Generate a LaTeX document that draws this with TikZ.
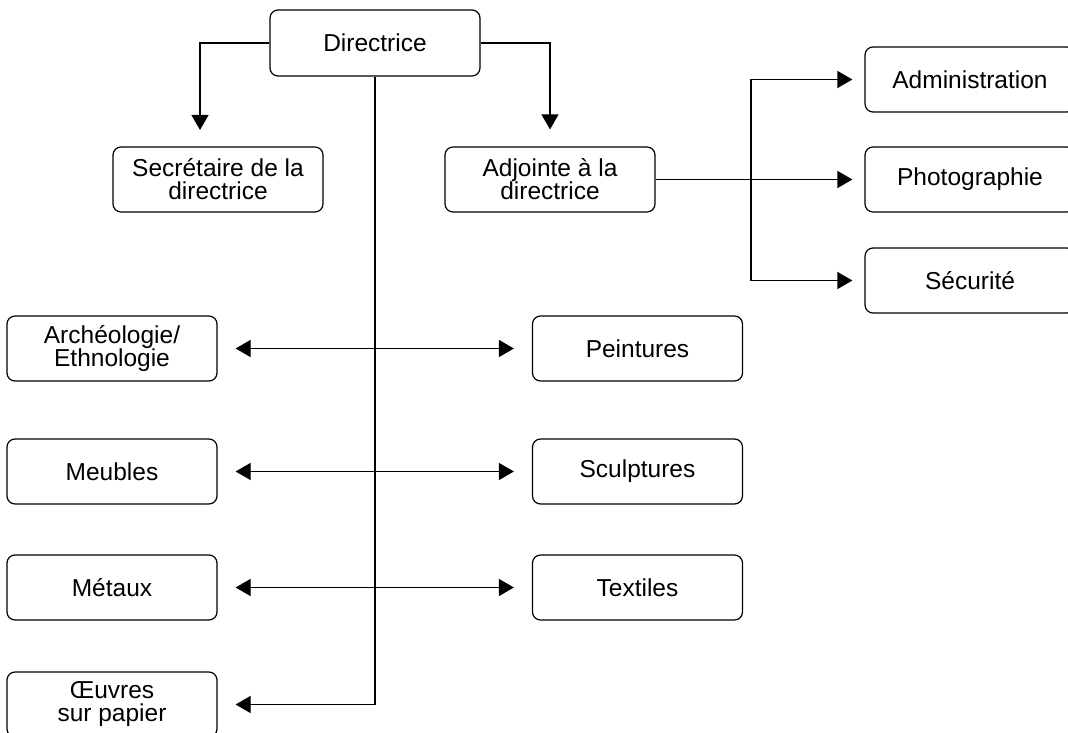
\documentclass[tikz,border=0pt]{standalone}
\usepackage{fontspec}
\setmainfont{Liberation Sans}
\usetikzlibrary{arrows.meta}
\begin{document}
\begin{tikzpicture}[x=1pt,y=-1pt,
  box/.style={draw, line width=1.2pt, rounded corners=8pt, minimum width=210pt, minimum height=65pt, inner sep=0pt, align=center, font=\fontsize{24.5}{23}\selectfont},
  conn/.style={line width=1.2pt, -{Triangle[length=15pt,width=17pt]}},
  dconn/.style={line width=1.2pt, {Triangle[length=15pt,width=17pt]}-{Triangle[length=15pt,width=17pt]}}]
\useasboundingbox (0,0) rectangle (1068,733);
\node[box, minimum height=66pt] (dir) at (375,43) {Directrice};
\node[box] (sec) at (218,179.5) {Secrétaire de la\\directrice};
\node[box] (adj) at (550,179.5) {Adjointe à la\\directrice};
\node[box] (adm) at (970,79.5) {Administration};
\node[box] (pho) at (970,179.5) {Photographie};
\node[box] (secu) at (970,280.5) {Sécurité};
\node[box] (arch) at (112,348.5) {Archéologie/\\Ethnologie};
\node[box] (meu) at (112,471.5) {Meubles};
\node[box] (met) at (112,587.5) {Métaux};
\node[box] (oeu) at (112,704.5) {Œuvres\\sur papier};
\node[box] (pei) at (637.5,348.5) {Peintures};
\node[box] (scu) at (637.5,471.5) {Sculptures};
\node[box] (tex) at (637.5,587.5) {Textiles};
\coordinate (secin) at (200,147);
\coordinate (vtop) at (751,79.5);
\coordinate (vbot) at (751,280.5);
\coordinate (vmid) at (375,704.5);
\draw[conn, shorten >=17pt] (dir.west) -| (secin);
\draw[conn, shorten >=17pt] (dir.east) -| (adj.north);
\draw[conn, shorten >=18pt] (dir.south) -- (vmid) -- (oeu.east);
\draw[conn, shorten >=12pt] (adj.east) -- (pho.west);
\draw[line width=1.2pt] (vtop) -- (vbot);
\draw[conn, shorten >=12pt] (vtop) -- (adm.west);
\draw[conn, shorten >=12pt] (vbot) -- (secu.west);
\draw[dconn, shorten <=18pt, shorten >=18pt] (arch.east) -- (pei.west);
\draw[dconn, shorten <=18pt, shorten >=18pt] (meu.east) -- (scu.west);
\draw[dconn, shorten <=18pt, shorten >=18pt] (met.east) -- (tex.west);
\end{tikzpicture}
\end{document}
